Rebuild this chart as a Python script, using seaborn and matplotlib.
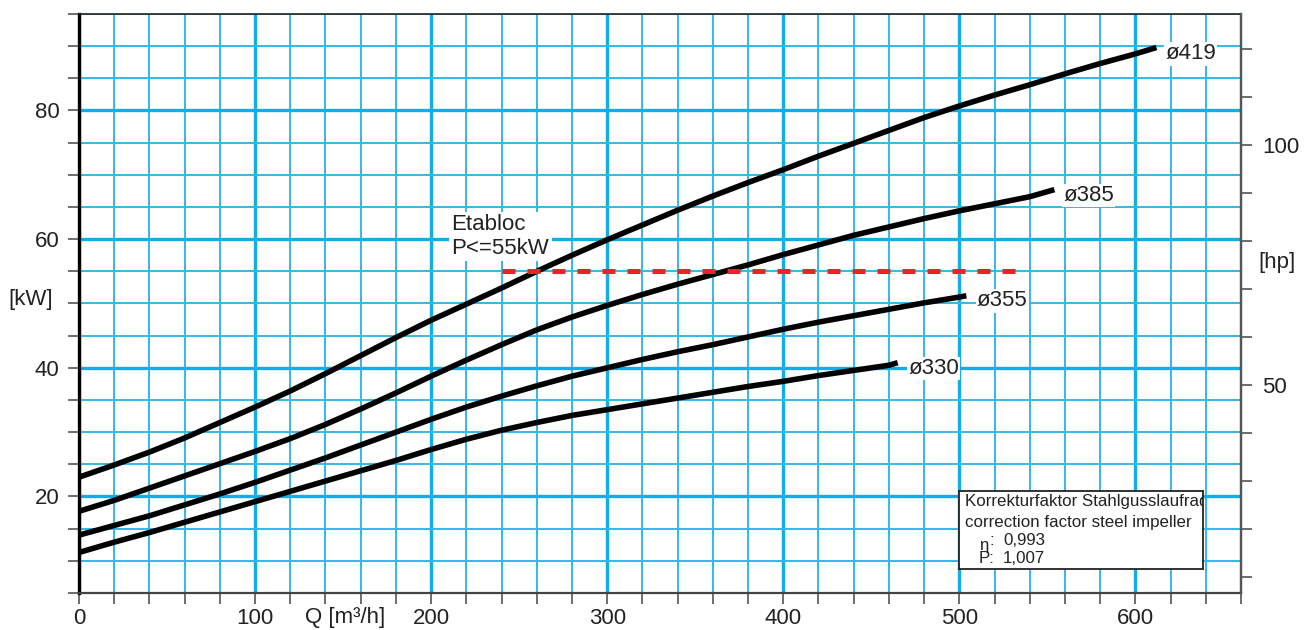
import numpy as np
import pandas as pd
import matplotlib
matplotlib.use("Agg")
import matplotlib.pyplot as plt
import seaborn as sns
from matplotlib.ticker import FixedLocator, MultipleLocator

# ---------------- data ----------------
q_419 = [0, 20, 40, 60, 80, 100, 120, 140, 160, 180, 200, 220, 240, 260, 280, 300,
         320, 340, 360, 380, 400, 420, 440, 460, 480, 500, 520, 540, 560, 580, 600, 612]
p_419 = [23.0, 24.9, 26.9, 29.1, 31.5, 33.9, 36.4, 39.1, 41.9, 44.7, 47.4, 49.9, 52.4, 55.0, 57.5, 59.9,
         62.2, 64.5, 66.7, 68.8, 70.8, 72.9, 74.9, 76.9, 78.9, 80.7, 82.4, 84.0, 85.7, 87.3, 88.8, 89.8]

q_385 = [0, 20, 40, 60, 80, 100, 120, 140, 160, 180, 200, 220, 240, 260, 280, 300,
         320, 340, 360, 380, 400, 420, 440, 460, 480, 500, 520, 540, 554]
p_385 = [17.7, 19.4, 21.3, 23.2, 25.1, 27.0, 29.0, 31.2, 33.6, 36.1, 38.7, 41.2, 43.6, 45.9, 47.9, 49.7,
         51.4, 53.0, 54.5, 56.0, 57.6, 59.1, 60.6, 61.9, 63.2, 64.4, 65.5, 66.6, 67.7]

q_355 = [0, 20, 40, 60, 80, 100, 120, 140, 160, 180, 200, 220, 240, 260, 280, 300,
         320, 340, 360, 380, 400, 420, 440, 460, 480, 500, 504]
p_355 = [14.0, 15.5, 17.0, 18.7, 20.4, 22.2, 24.1, 26.0, 28.0, 30.0, 32.0, 33.9, 35.6, 37.2, 38.7, 40.0,
         41.3, 42.5, 43.6, 44.8, 46.0, 47.1, 48.1, 49.1, 50.1, 51.0, 51.2]

q_330 = [0, 20, 40, 60, 80, 100, 120, 140, 160, 180, 200, 220, 240, 260, 280, 300,
         320, 340, 360, 380, 400, 420, 440, 460, 465]
p_330 = [11.3, 12.9, 14.4, 16.0, 17.6, 19.2, 20.8, 22.4, 24.0, 25.6, 27.3, 28.9, 30.3, 31.5, 32.6, 33.5,
         34.4, 35.3, 36.2, 37.1, 37.9, 38.8, 39.6, 40.4, 40.8]

impellers = ["ø419", "ø385", "ø355", "ø330"]
label_pos = {"ø419": (617, 88.8), "ø385": (559, 66.8), "ø355": (510, 50.4), "ø330": (471, 39.9)}

etabloc_q = [240, 532]
etabloc_kw = [55, 55]
etabloc_text = "Etabloc\nP<=55kW"

x_ticks = [0, 100, 200, 300, 400, 500, 600]
y_ticks = [20, 40, 60, 80]
hp_ticks = [50, 100]
KW_TO_HP = 1.341

box_lines = ["Korrekturfaktor Stahlgusslaufrad", "correction factor steel impeller"]
eta_value = "0,993"
p_value = "1,007"

# ---------------- build long-form table ----------------
frames = []
for name, q, p in zip(impellers, [q_419, q_385, q_355, q_330], [p_419, p_385, p_355, p_330]):
    frames.append(pd.DataFrame({"Q": q, "P": p, "impeller": name}))
df = pd.concat(frames, ignore_index=True)

# ---------------- style ----------------
sns.set_theme(style="white")
plt.rcParams['font.family'] = ['Liberation Sans', 'DejaVu Sans']

W, H = 1313, 630
FS = 16
TXT = "#222222"
fig = plt.figure(figsize=(W / 100, H / 100), dpi=100)
fig.patch.set_facecolor("white")
ax = fig.add_axes([79 / W, 1 - 593 / H, (1241 - 79) / W, (593 - 14) / H])
ax.set_facecolor("white")

grid_major = "#10aee6"
grid_minor = "#33b8e8"

ax.set_xlim(0, 660)
ax.set_ylim(5, 95)
ax.xaxis.set_major_locator(FixedLocator(x_ticks))
ax.xaxis.set_minor_locator(MultipleLocator(20))
ax.yaxis.set_major_locator(FixedLocator(y_ticks))
ax.yaxis.set_minor_locator(MultipleLocator(5))
ax.set_axisbelow(True)
ax.grid(which="major", color=grid_major, linewidth=2.4)
ax.grid(which="minor", color=grid_minor, linewidth=1.4)

ax.tick_params(which="both", direction="out", length=8, width=1.2, color="#555555",
               left=True, bottom=True)
ax.tick_params(axis="x", which="major", labelsize=FS, pad=3, labelcolor=TXT)
ax.tick_params(axis="y", which="major", labelsize=FS, pad=6, labelcolor=TXT)

for side, col, lw in [("left", "black", 2.4), ("top", "#222222", 1.2),
                      ("bottom", "#444444", 1.6), ("right", "#555555", 1.6)]:
    ax.spines[side].set_visible(True)
    ax.spines[side].set_color(col)
    ax.spines[side].set_linewidth(lw)

# curves
sns.lineplot(data=df, x="Q", y="P", hue="impeller", palette={n: "black" for n in impellers},
             linewidth=4.0, legend=False, sort=False, estimator=None, ax=ax, zorder=3)
for ln in ax.lines:
    ln.set_solid_capstyle("butt")
    ln.set_solid_joinstyle("round")

# Etabloc limit line
sns.lineplot(x=etabloc_q, y=etabloc_kw, color="#e8232a", linewidth=3.6, ax=ax,
             legend=False, zorder=3)
red = ax.lines[-1]
red.set_linestyle((0, (2.6, 2.4)))
red.set_dash_capstyle("butt")

ax.set_xlabel("")
ax.set_ylabel("")

# curve labels
for name in impellers:
    x, y = label_pos[name]
    ax.text(x, y, name, ha="left", va="center", fontsize=FS, color=TXT, zorder=2.5,
            bbox=dict(facecolor="white", edgecolor="none", pad=1.0))

ax.text(211.4, 60.4, etabloc_text, ha="left", va="center", fontsize=FS, color=TXT,
        linespacing=1.15, zorder=2.5,
        bbox=dict(facecolor="white", edgecolor="none", pad=2.0))

# secondary hp axis
ax2 = ax.twinx()
ax2.set_ylim(5 * KW_TO_HP, 95 * KW_TO_HP)
ax2.yaxis.set_major_locator(FixedLocator(hp_ticks))
ax2.yaxis.set_minor_locator(MultipleLocator(10))
ax2.grid(False)
ax2.tick_params(which="both", direction="out", length=8, width=1.2, color="#555555", right=True)
ax2.tick_params(axis="y", which="major", labelsize=FS, pad=7, labelcolor=TXT)
for side in ["left", "top", "bottom"]:
    ax2.spines[side].set_visible(False)
ax2.spines["right"].set_color("#555555")
ax2.spines["right"].set_linewidth(1.6)
ax2.set_ylabel("")

# axis titles
fig.text(8 / W, 1 - 300 / H, "[kW]", ha="left", va="center", fontsize=FS, color=TXT)
fig.text(1258 / W, 1 - 262 / H, "[hp]", ha="left", va="center", fontsize=FS, color=TXT)
fig.text(305 / W, 1 - 618 / H, "Q [m³/h]", ha="left", va="center", fontsize=FS, color=TXT)

# correction factor box
bx = fig.add_axes([959 / W, 1 - 569 / H, (1203 - 959) / W, (569 - 491) / H], zorder=5)
bx.set_facecolor("white")
bx.set_xticks([])
bx.set_yticks([])
for s in bx.spines.values():
    s.set_visible(True)
    s.set_color("#222222")
    s.set_linewidth(1.3)
bx.set_xlim(0, 1)
bx.set_ylim(0, 1)
fs = 12.2
bx.text(0.025, 0.86, box_lines[0], ha="left", va="center", fontsize=fs, color=TXT, clip_on=True)
bx.text(0.025, 0.60, box_lines[1], ha="left", va="center", fontsize=fs, color=TXT, clip_on=True)
bx.text(0.082, 0.30, "η", ha="left", va="center", fontsize=fs, color=TXT)
bx.text(0.125, 0.37, ":", ha="left", va="center", fontsize=fs, color=TXT)
bx.text(0.18, 0.37, eta_value, ha="left", va="center", fontsize=fs, color=TXT)
bx.text(0.082, 0.13, "P:", ha="left", va="center", fontsize=fs, color=TXT)
bx.text(0.18, 0.13, p_value, ha="left", va="center", fontsize=fs, color=TXT)

fig.savefig("out.png", dpi=100, facecolor="white")
